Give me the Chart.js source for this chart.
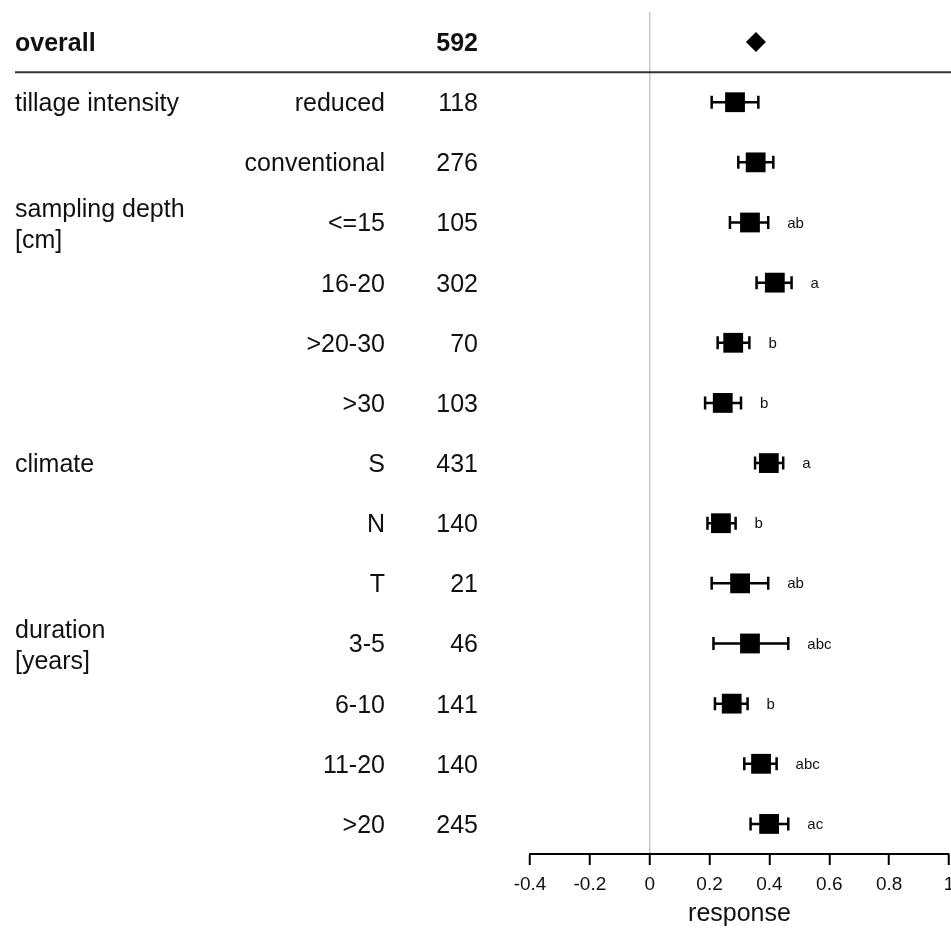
<!DOCTYPE html>
<html>
<head>
<meta charset="utf-8">
<script src="https://cdn.jsdelivr.net/npm/chart.js@4"></script>
<style>
  html, body { margin: 0; padding: 0; background: #fff; overflow: hidden; }
  #forest { display: block; }
</style>
</head>
<body>
<canvas id="forest" width="960" height="931"></canvas>
<script>
// rows top to bottom
var groups = ['overall', 'tillage intensity', '', 'sampling depth\n[cm]', '', '', '', 'climate', '', '', 'duration\n[years]', '', '', ''];
var subgroups = ['', 'reduced', 'conventional', '<=15', '16-20', '>20-30', '>30', 'S', 'N', 'T', '3-5', '6-10', '11-20', '>20'];
var counts = [592, 118, 276, 105, 302, 70, 103, 431, 140, 21, 46, 141, 140, 245];
var estimate = [0.355, 0.285, 0.354, 0.335, 0.418, 0.279, 0.244, 0.398, 0.238, 0.302, 0.335, 0.274, 0.372, 0.399];
var lower = [null, 0.207, 0.296, 0.268, 0.357, 0.227, 0.185, 0.352, 0.193, 0.207, 0.213, 0.218, 0.316, 0.337];
var upper = [null, 0.363, 0.413, 0.396, 0.474, 0.333, 0.305, 0.446, 0.287, 0.396, 0.463, 0.327, 0.424, 0.463];
var letters = ['', '', '', 'ab', 'a', 'b', 'b', 'a', 'b', 'ab', 'abc', 'b', 'abc', 'ac'];
var xTicks = [-0.4, -0.2, 0, 0.2, 0.4, 0.6, 0.8, 1];

var FONT = "'Liberation Sans', Arial, sans-serif";
Chart.defaults.font.family = FONT;
Chart.defaults.color = '#111';

var points = estimate.map(function(v, i){ return {x: v, y: i}; });

// whiskers + significance letters
var errorBars = {
    id: 'errorBars',
    beforeDatasetsDraw: function(chart){
        var ctx = chart.ctx, xs = chart.scales.x, ys = chart.scales.y;
        ctx.save();
        ctx.strokeStyle = '#000';
        ctx.lineWidth = 2.5;
        for (var i = 0; i < estimate.length; i++) {
            if (lower[i] === null) continue;
            var y = ys.getPixelForValue(i);
            var x0 = xs.getPixelForValue(lower[i]), x1 = xs.getPixelForValue(upper[i]);
            ctx.beginPath();
            ctx.moveTo(x0, y); ctx.lineTo(x1, y);
            ctx.moveTo(x0, y - 6.5); ctx.lineTo(x0, y + 6.5);
            ctx.moveTo(x1, y - 6.5); ctx.lineTo(x1, y + 6.5);
            ctx.stroke();
        }
        ctx.fillStyle = '#111';
        ctx.font = '15px ' + FONT;
        ctx.textBaseline = 'middle';
        ctx.textAlign = 'left';
        for (var j = 0; j < letters.length; j++) {
            if (!letters[j]) continue;
            ctx.fillText(letters[j], xs.getPixelForValue(upper[j]) + 19, ys.getPixelForValue(j) + 1);
        }
        ctx.restore();
    }
};

// table columns at the left and the line under "overall"
var tableText = {
    id: 'tableText',
    afterDraw: function(chart){
        var ctx = chart.ctx, ys = chart.scales.y;
        ctx.save();
        ctx.fillStyle = '#111';
        ctx.textBaseline = 'middle';
        for (var i = 0; i < subgroups.length; i++) {
            var y = ys.getPixelForValue(i) + 2;
            var bold = i === 0 ? 'bold ' : '';
            ctx.font = bold + '25px ' + FONT;
            if (groups[i]) {
                ctx.textAlign = 'left';
                var parts = groups[i].split('\n');
                if (parts.length === 1) {
                    ctx.fillText(parts[0], 15, y);
                } else {
                    ctx.fillText(parts[0], 15, y - 14);
                    ctx.fillText(parts[1], 15, y + 17);
                }
            }
            ctx.textAlign = 'right';
            if (subgroups[i]) ctx.fillText(subgroups[i], 385, y);
            ctx.fillText(String(counts[i]), 478, y);
        }
        var ySep = (ys.getPixelForValue(0) + ys.getPixelForValue(1)) / 2;
        ctx.strokeStyle = '#333';
        ctx.lineWidth = 2;
        ctx.beginPath();
        ctx.moveTo(15, ySep); ctx.lineTo(960, ySep);
        ctx.stroke();
        ctx.restore();
    }
};

var ctx = document.getElementById('forest');
new Chart(ctx, {
    type: 'scatter',
    data: {
        datasets: [{
            data: points,
            backgroundColor: '#000',
            borderColor: '#000',
            borderWidth: 0,
            pointStyle: function(c){ return c.dataIndex === 0 ? 'rectRot' : 'rect'; },
            pointRadius: function(c){ return c.dataIndex === 0 ? 10 : 14; },
            pointHoverRadius: function(c){ return c.dataIndex === 0 ? 10 : 14; }
        }]
    },
    options: {
        responsive: false,
        animation: false,
        layout: { autoPadding: false, padding: { left: 530, right: 11, top: 12, bottom: 0 } },
        plugins: { legend: { display: false }, tooltip: { enabled: false } },
        scales: {
            x: {
                type: 'linear',
                min: -0.4,
                max: 1,
                afterBuildTicks: function(scale){ scale.ticks = xTicks.map(function(v){ return {value: v}; }); },
                afterFit: function(scale){ scale.height = 77; },
                ticks: {
                    font: { size: 19 },
                    color: '#111',
                    padding: 0,
                    maxRotation: 0,
                    autoSkip: false,
                    callback: function(v){ return String(Math.round(v * 10) / 10); }
                },
                grid: {
                    drawOnChartArea: true,
                    color: function(c){ return c.tick && c.tick.value === 0 ? '#c8c8c8' : 'rgba(0,0,0,0)'; },
                    tickColor: '#000',
                    tickLength: 19,
                    tickBorderDash: [10, 40],
                    tickWidth: 2,
                    lineWidth: 1.5
                },
                border: { display: true, color: '#000', width: 2 },
                title: {
                    display: true,
                    text: 'response',
                    font: { size: 25 },
                    color: '#111',
                    padding: { top: 0, bottom: 2 }
                }
            },
            y: {
                type: 'linear',
                min: -0.5,
                max: 13.5,
                reverse: true,
                display: false
            }
        }
    },
    plugins: [errorBars, tableText]
});
</script>
</body>
</html>
